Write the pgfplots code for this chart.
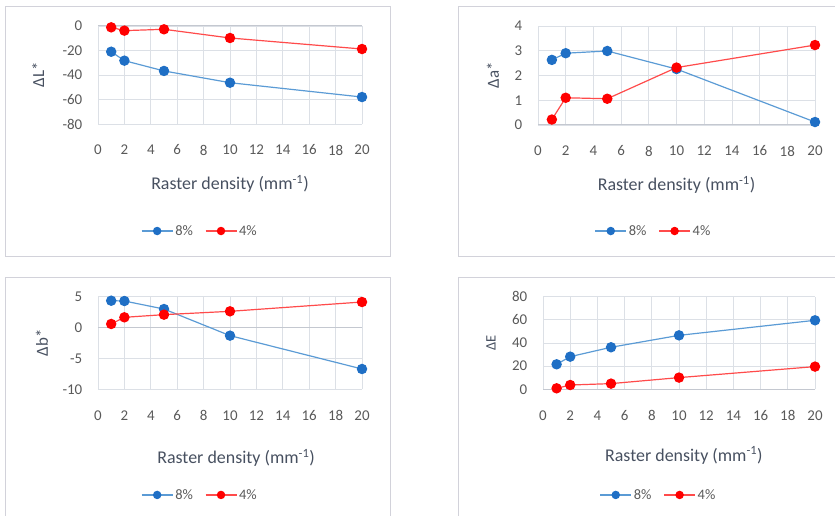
\documentclass[border=0pt]{standalone}
\usepackage{fontspec}
\setmainfont{Carlito}
\usepackage{pgfplots}
\pgfplotsset{compat=1.18}
\definecolor{bl}{HTML}{1F6FC5}
\definecolor{bll}{HTML}{5B9BD5}
\definecolor{rd}{HTML}{FF0000}
\definecolor{rdl}{HTML}{FF4B4B}
\definecolor{txt}{HTML}{595959}
\definecolor{lab}{HTML}{475060}
\definecolor{grd}{HTML}{DCE0E6}
\definecolor{axc}{HTML}{C4C8D0}
\definecolor{frm}{HTML}{D2D2DA}

\pgfplotsset{
  panel/.style={
    scale only axis,
    anchor=south west,
    xmin=0, xmax=20, xtick={0,2,...,20},
    grid=major,
    major grid style={draw=grd, line width=0.8bp},
    axis line style={draw=none},
    tick style={draw=none},
    /pgf/number format/assume math mode=true,
    ticklabel style={font=\fontsize{15}{18}\selectfont, text=txt},
    xticklabel style={anchor=center, yshift=-26bp},
    yticklabel style={anchor=east, inner sep=0pt, xshift=-15.5bp},
    xlabel={Raster density (mm\textsuperscript{-1})},
    xlabel style={anchor=center, font=\fontsize{18}{20}\selectfont, text=lab},
    ylabel style={anchor=center, font=\fontsize{17}{20}\selectfont, text=lab},
    legend columns=2,
    legend style={draw=none, fill=none, anchor=center, inner sep=0pt,
      font=\fontsize{14.5}{17}\selectfont, text=txt,
      nodes={inner sep=2bp},
      /tikz/every even column/.append style={column sep=10bp}},
    legend image code/.code={%
      \draw[mark repeat=2,mark phase=2,#1,mark size=3.6bp]
        plot coordinates {(0bp,0bp) (15.5bp,0bp) (31bp,0bp)};},
  },
  s8/.style={color=bll, line width=1.2bp, mark=*, mark size=4.6bp,
    mark options={fill=bl, draw=bl}},
  s4/.style={color=rdl, line width=1.2bp, mark=*, mark size=4.6bp,
    mark options={fill=rd, draw=rd}},
}

\begin{document}
\begin{tikzpicture}[x=1bp,y=1bp]
\useasboundingbox (0,0) rectangle (835,516);
% chart frames
\draw[frm, line width=1bp] (5,509) rectangle (390,259);
\draw[frm, line width=1bp] (837,509) -- (458,509) -- (458,259) -- (837,259);
\draw[frm, line width=1bp] (5,-2) -- (5,238.3) -- (390,238.3) -- (390,-2);
\draw[frm, line width=1bp] (458,-2) -- (458,238.3) -- (837,238.3);

% Panel 1: Delta L*
\begin{axis}[panel, at={(98bp,392bp)}, width=264bp, height=98bp,
  ymin=-80, ymax=0, ytick={-80,-60,...,0},
  ylabel={ΔL*},
  xlabel style={at={(axis description cs:0.5,-0.612)}},
  ylabel style={at={(axis description cs:-0.227,0.5)}},
  legend style={at={(axis description cs:0.386,-1.092)}}]
\addplot[axc, line width=1bp, forget plot] coordinates {(0,0) (20,0)};
\addplot[s8] coordinates {(1,-21) (2,-28.3) (5,-36.7) (10,-46.3) (20,-58)};
\addlegendentry{8\%}
\addplot[s4] coordinates {(1,-1.1) (2,-3.8) (5,-2.7) (10,-9.8) (20,-18.8)};
\addlegendentry{4\%}
\end{axis}

% Panel 2: Delta a*
\begin{axis}[panel, at={(538bp,391bp)}, width=277bp, height=99bp,
  ymin=0, ymax=4, ytick={0,1,2,3,4},
  ylabel={Δa*},
  xlabel style={at={(axis description cs:0.5,-0.606)}},
  ylabel style={at={(axis description cs:-0.1625,0.5)}},
  legend style={at={(axis description cs:0.417,-1.071)}}]
\addplot[axc, line width=1bp, forget plot] coordinates {(0,0) (20,0)};
\addplot[s8] coordinates {(1,2.63) (2,2.9) (5,2.99) (10,2.26) (20,0.12)};
\addlegendentry{8\%}
\addplot[s4] coordinates {(1,0.22) (2,1.10) (5,1.06) (10,2.32) (20,3.23)};
\addlegendentry{4\%}
\end{axis}

% Panel 3: Delta b*
\begin{axis}[panel, at={(98bp,126.7bp)}, width=264bp, height=92.6bp,
  ymin=-10, ymax=5, ytick={-10,-5,0,5},
  ylabel={Δb*},
  xlabel style={at={(axis description cs:0.523,-0.745)}},
  ylabel style={at={(axis description cs:-0.212,0.5)}},
  legend style={at={(axis description cs:0.386,-1.141)}}]
\addplot[axc, line width=1bp, forget plot] coordinates {(0,0) (20,0)};
\addplot[s8] coordinates {(1,4.35) (2,4.3) (5,3.0) (10,-1.31) (20,-6.71)};
\addlegendentry{8\%}
\addplot[s4] coordinates {(1,0.58) (2,1.66) (5,2.09) (10,2.63) (20,4.14)};
\addlegendentry{4\%}
\end{axis}

% Panel 4: Delta E
\begin{axis}[panel, at={(543bp,126.7bp)}, width=272bp, height=92.6bp,
  ymin=0, ymax=80, ytick={0,20,...,80},
  ylabel={ΔE},
  xlabel style={at={(axis description cs:0.518,-0.713)}},
  ylabel style={at={(axis description cs:-0.191,0.5)}, font=\fontsize{14.5}{17}\selectfont},
  legend style={at={(axis description cs:0.4246,-1.141)}}]
\addplot[axc, line width=1bp, forget plot] coordinates {(0,0) (20,0)};
\addplot[s8] coordinates {(1,21.6) (2,28.2) (5,36.3) (10,46.6) (20,59.6)};
\addlegendentry{8\%}
\addplot[s4] coordinates {(1,0.86) (2,3.7) (5,4.9) (10,10.1) (20,19.6)};
\addlegendentry{4\%}
\end{axis}
\end{tikzpicture}
\end{document}
